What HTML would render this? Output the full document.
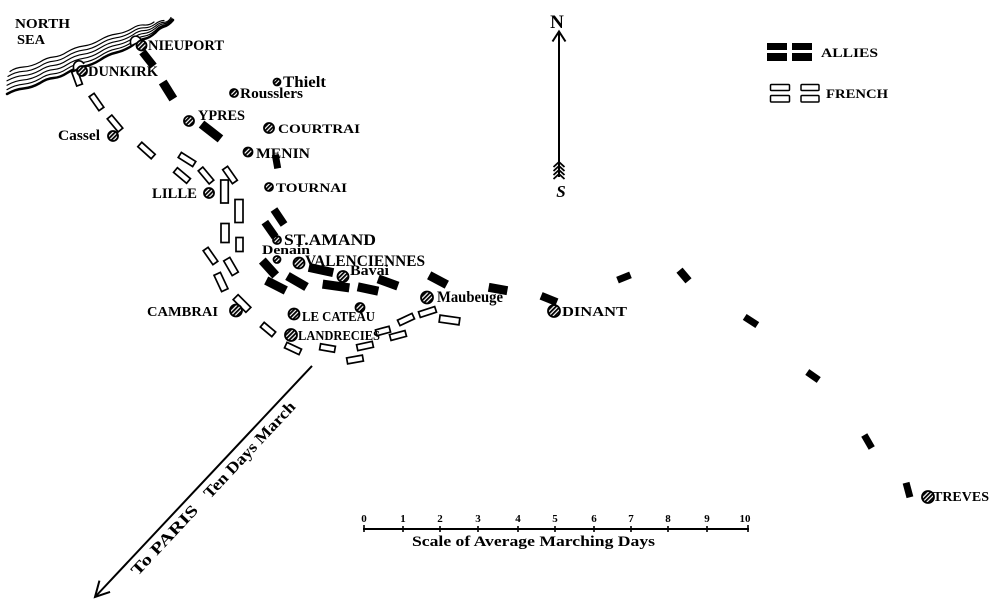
<!DOCTYPE html>
<html><head><meta charset="utf-8">
<style>
html,body{margin:0;padding:0;background:#fff;}
svg{display:block;}
text{font-family:"Liberation Serif",serif;font-weight:bold;fill:#000;}
.a{fill:#000;}
.f{fill:#fff;stroke:#000;stroke-width:1.7;}
.d{fill:url(#h);stroke:#000;stroke-width:1.8;}
.c{fill:none;stroke:#000;stroke-width:1.15;stroke-linecap:round;}
</style></head><body>
<svg width="1000" height="603" viewBox="0 0 1000 603" xmlns="http://www.w3.org/2000/svg">
<defs>
<pattern id="h" width="3" height="3" patternUnits="userSpaceOnUse" patternTransform="rotate(45)">
<rect width="3" height="3" fill="#fff"/><rect width="1.8" height="3" fill="#000"/>
</pattern>
</defs>
<rect width="1000" height="603" fill="#fff"/>

<!-- Coastline -->
<path class="c" style="stroke-width:2.5" d="M7,94 Q15.25,89.25 23.5,88.5 Q31.75,87.75 40,83 Q46.75,78.5 53.5,78 Q60.25,77.5 67,73 Q75.25,67.75 83.5,66.5 Q91.75,65.25 100,60 Q108.25,54.25 116.5,52.5 Q124.75,50.75 133,45 Q138.5,40 144,39 Q149.5,38 155,33 Q159.5,27.75 164,26.5 Q168.5,25.25 173,20"/>
<path class="c" d="M7,89.6 Q15.25,84.9 23.5,84.2 Q31.75,83.5 40,78.8 Q46.75,74.3 53.5,73.8 Q60.25,73.3 67,68.8 Q75.25,63.6 83.5,62.4 Q91.75,61.2 100,56 Q108.25,50.4 116.5,48.8 Q124.75,47.2 133,41.6 Q138.5,36.9 144,36.2 Q149.5,35.5 155,30.8 Q159.5,25.95 164,25.1 Q168.5,24.25 172,20"/>
<path class="c" d="M7,85.2 Q15.25,80.55 23.5,79.9 Q31.75,79.25 40,74.6 Q46.75,70.1 53.5,69.6 Q60.25,69.1 67,64.6 Q75.25,59.45 83.5,58.3 Q91.75,57.15 100,52 Q108.25,46.55 116.5,45.1 Q124.75,43.65 133,38.2 Q138.5,33.8 144,33.4 Q149.5,33 155,28.6 Q159.5,24.15 164,23.7 Q168.5,23.25 172,18.5"/>
<path class="c" d="M7,80.8 Q15.25,76.2 23.5,75.6 Q31.75,75 40,70.4 Q46.75,65.9 53.5,65.4 Q60.25,64.9 67,60.4 Q75.25,55.3 83.5,54.2 Q91.75,53.1 100,48 Q108.25,42.7 116.5,41.4 Q124.75,40.1 133,34.8 Q138.5,30.7 144,30.6 Q149.5,30.5 155,26.4 Q159.5,22.35 164,22.3 Q168.5,22.25 171,17.5"/>
<path class="c" d="M8,76.4 Q15.25,71.85 23.5,71.3 Q31.75,70.75 40,66.2 Q46.75,61.7 53.5,61.2 Q60.25,60.7 67,56.2 Q75.25,51.15 83.5,50.1 Q91.75,49.05 100,44 Q108.25,38.85 116.5,37.7 Q124.75,36.55 133,31.4 Q138.5,27.6 144,27.8 Q149.5,28 155,24.2 Q159.5,20.55 164,20.5"/>
<path class="c" d="M10,71.5 Q15.25,67.5 23.5,67 Q31.75,66.5 40,62 Q46.75,57.5 53.5,57 Q60.25,56.5 67,52 Q75.25,47 83.5,46 Q91.75,45 100,40 Q108.25,35 116.5,34 Q124.75,33 133,28 Q138.5,24.5 144,25 Q149.5,25.5 154,22"/>
<!-- harbours -->
<path d="M131,45 C128,36 138,33 141,40" fill="#fff" stroke="#000" stroke-width="1.6"/>
<path d="M74,70 C71,61 81,58 84,64" fill="#fff" stroke="#000" stroke-width="1.6"/>

<!-- Allied blocks -->
<g class="a">
<rect x="-9" y="-4" width="18" height="8" transform="translate(148,59) rotate(52)"/>
<rect x="-10" y="-4.5" width="20" height="9" transform="translate(168,90.5) rotate(58)"/>
<rect x="-12" y="-4.5" width="24" height="9" transform="translate(211,131.5) rotate(38)"/>
<rect x="-7" y="-3.5" width="14" height="7" transform="translate(276.5,161.5) rotate(80)"/>
<rect x="-9" y="-4" width="18" height="8" transform="translate(279,217) rotate(56)"/>
<rect x="-9" y="-4" width="18" height="8" transform="translate(270,229.5) rotate(55)"/>
<rect x="-10" y="-4.5" width="20" height="9" transform="translate(269,268) rotate(48)"/>
<rect x="-11" y="-4.5" width="22" height="9" transform="translate(276,285.5) rotate(27)"/>
<rect x="-11" y="-4.5" width="22" height="9" transform="translate(297,281.5) rotate(30)"/>
<rect x="-12.5" y="-4.5" width="25" height="9" transform="translate(321,270) rotate(12)"/>
<rect x="-13.5" y="-4.5" width="27" height="9" transform="translate(336,286) rotate(8)"/>
<rect x="-10.5" y="-4.5" width="21" height="9" transform="translate(368,289) rotate(12)"/>
<rect x="-10.5" y="-4.5" width="21" height="9" transform="translate(388,282.5) rotate(20)"/>
<rect x="-10" y="-4.5" width="20" height="9" transform="translate(438,280) rotate(28)"/>
<rect x="-9.5" y="-4.5" width="19" height="9" transform="translate(498,289) rotate(10)"/>
<rect x="-8.5" y="-4" width="17" height="8" transform="translate(549,299) rotate(22)"/>
<rect x="-7" y="-3.5" width="14" height="7" transform="translate(624,277.5) rotate(-22)"/>
<rect x="-7" y="-4" width="14" height="8" transform="translate(684,275.5) rotate(50)"/>
<rect x="-7.5" y="-3.5" width="15" height="7" transform="translate(751,321) rotate(33)"/>
<rect x="-7" y="-3.5" width="14" height="7" transform="translate(813,376) rotate(35)"/>
<rect x="-7.5" y="-3.5" width="15" height="7" transform="translate(868,441.5) rotate(60)"/>
<rect x="-7.5" y="-3.5" width="15" height="7" transform="translate(908,490) rotate(75)"/>
</g>

<!-- French blocks -->
<g class="f">
<rect x="-7.5" y="-3" width="15" height="6" transform="translate(77,78) rotate(70)"/>
<rect x="-8.5" y="-3" width="17" height="6" transform="translate(96.5,102) rotate(55)"/>
<rect x="-8.5" y="-3" width="17" height="6" transform="translate(115,123.5) rotate(50)"/>
<rect x="-9" y="-3" width="18" height="6" transform="translate(146.5,150.5) rotate(42)"/>
<rect x="-8.5" y="-3" width="17" height="6" transform="translate(187,159.5) rotate(32)"/>
<rect x="-8.5" y="-3" width="17" height="6" transform="translate(182,175.5) rotate(40)"/>
<rect x="-8.5" y="-3" width="17" height="6" transform="translate(206,175.5) rotate(50)"/>
<rect x="-8.5" y="-3" width="17" height="6" transform="translate(230,175) rotate(55)"/>
<rect x="-11.5" y="-3.75" width="23" height="7.5" transform="translate(224.5,191.5) rotate(90)"/>
<rect x="-11.5" y="-4" width="23" height="8" transform="translate(239,211) rotate(90)"/>
<rect x="-9.5" y="-4" width="19" height="8" transform="translate(225,233) rotate(90)"/>
<rect x="-7" y="-3.5" width="14" height="7" transform="translate(239.5,244.5) rotate(90)"/>
<rect x="-8.5" y="-3" width="17" height="6" transform="translate(210.5,256) rotate(55)"/>
<rect x="-8.5" y="-3.5" width="17" height="7" transform="translate(231,266.5) rotate(60)"/>
<rect x="-9" y="-3.5" width="18" height="7" transform="translate(221,282) rotate(65)"/>
<rect x="-9" y="-3.5" width="18" height="7" transform="translate(242,303.5) rotate(45)"/>
<rect x="-7.5" y="-3" width="15" height="6" transform="translate(268,329.5) rotate(40)"/>
<rect x="-8" y="-3" width="16" height="6" transform="translate(293,348.5) rotate(25)"/>
<rect x="-7.5" y="-3" width="15" height="6" transform="translate(327.5,348) rotate(10)"/>
<rect x="-8" y="-3" width="16" height="6" transform="translate(355,359.5) rotate(-10)"/>
<rect x="-8" y="-3" width="16" height="6" transform="translate(365,346) rotate(-12)"/>
<rect x="-7" y="-3" width="14" height="6" transform="translate(383,331) rotate(-15)"/>
<rect x="-8" y="-3" width="16" height="6" transform="translate(398,335.5) rotate(-15)"/>
<rect x="-8" y="-3" width="16" height="6" transform="translate(406,319.5) rotate(-25)"/>
<rect x="-8.5" y="-3" width="17" height="6" transform="translate(427.5,312) rotate(-18)"/>
<rect x="-10" y="-3.5" width="20" height="7" transform="translate(449.5,320) rotate(8)"/>
</g>

<!-- City dots -->
<g class="d">
<circle cx="141.5" cy="45.5" r="5"/>
<circle cx="82" cy="71" r="5"/>
<circle cx="277" cy="82" r="3.5"/>
<circle cx="234" cy="93" r="4"/>
<circle cx="189" cy="121" r="5"/>
<circle cx="113" cy="136" r="5"/>
<circle cx="269" cy="128" r="5"/>
<circle cx="248" cy="152" r="4.5"/>
<circle cx="269" cy="187" r="4"/>
<circle cx="209" cy="193" r="5"/>
<circle cx="277" cy="240" r="4"/>
<circle cx="277" cy="259.5" r="3.5"/>
<circle cx="299" cy="263" r="5.5"/>
<circle cx="343" cy="276.5" r="5.5"/>
<circle cx="427" cy="297.5" r="6"/>
<circle cx="554" cy="311" r="6"/>
<circle cx="236" cy="310.5" r="6"/>
<circle cx="294" cy="314" r="5.5"/>
<circle cx="360" cy="307.5" r="4.5"/>
<circle cx="291" cy="335" r="6"/>
<circle cx="928" cy="497" r="6"/>
</g>

<!-- Labels -->
<text x="15" y="28" font-size="14" textLength="55" lengthAdjust="spacingAndGlyphs">NORTH</text>
<text x="17" y="44" font-size="14" textLength="28" lengthAdjust="spacingAndGlyphs">SEA</text>
<text x="148" y="50" font-size="15" textLength="76" lengthAdjust="spacingAndGlyphs">NIEUPORT</text>
<text x="88" y="76" font-size="15" textLength="70" lengthAdjust="spacingAndGlyphs">DUNKIRK</text>
<text x="283" y="87" font-size="16" textLength="43" lengthAdjust="spacingAndGlyphs">Thielt</text>
<text x="240" y="98" font-size="15" textLength="63" lengthAdjust="spacingAndGlyphs">Rousslers</text>
<text x="198" y="120" font-size="15" textLength="47" lengthAdjust="spacingAndGlyphs">YPRES</text>
<text x="58" y="140" font-size="15" textLength="42" lengthAdjust="spacingAndGlyphs">Cassel</text>
<text x="278" y="133" font-size="13" textLength="82" lengthAdjust="spacingAndGlyphs">COURTRAI</text>
<text x="256" y="158" font-size="15" textLength="54" lengthAdjust="spacingAndGlyphs">MENIN</text>
<text x="276" y="192" font-size="13" textLength="71" lengthAdjust="spacingAndGlyphs">TOURNAI</text>
<text x="152" y="198" font-size="15" textLength="45" lengthAdjust="spacingAndGlyphs">LILLE</text>
<text x="284" y="245" font-size="16" textLength="92" lengthAdjust="spacingAndGlyphs">ST.AMAND</text>
<text x="262" y="254" font-size="13" textLength="48" lengthAdjust="spacingAndGlyphs">Denain</text>
<text x="305" y="266" font-size="16" textLength="120" lengthAdjust="spacingAndGlyphs">VALENCIENNES</text>
<text x="350" y="275" font-size="15" textLength="39" lengthAdjust="spacingAndGlyphs">Bavai</text>
<text x="437" y="302" font-size="16" textLength="66" lengthAdjust="spacingAndGlyphs">Maubeuge</text>
<text x="562" y="316" font-size="14" textLength="65" lengthAdjust="spacingAndGlyphs">DINANT</text>
<text x="147" y="316" font-size="14" textLength="71" lengthAdjust="spacingAndGlyphs">CAMBRAI</text>
<text x="302" y="321" font-size="14" textLength="73" lengthAdjust="spacingAndGlyphs">LE CATEAU</text>
<text x="298" y="340" font-size="14" textLength="82" lengthAdjust="spacingAndGlyphs">LANDRECIES</text>
<text x="933" y="501" font-size="14" textLength="56" lengthAdjust="spacingAndGlyphs">TREVES</text>

<!-- Compass -->
<text x="557" y="28" font-size="19" text-anchor="middle" font-weight="normal">N</text>
<line x1="559" y1="32" x2="559" y2="177" stroke="#000" stroke-width="2"/>
<polyline points="552.5,41.5 559,31.5 565.5,41.5" fill="none" stroke="#000" stroke-width="2"/>
<g fill="none" stroke="#000" stroke-width="1.8">
<polyline points="553.5,167 559,162 564.5,167"/>
<polyline points="553.5,171 559,166 564.5,171"/>
<polyline points="553.5,175 559,170 564.5,175"/>
<polyline points="553.5,179 559,174 564.5,179"/>
</g>
<text x="561" y="197" font-size="17" text-anchor="middle" font-style="italic" font-weight="normal">S</text>

<!-- Legend -->
<rect x="767" y="43" width="20" height="7" fill="#000"/>
<rect x="767" y="53" width="20" height="8" fill="#000"/>
<rect x="792" y="43" width="20" height="7" fill="#000"/>
<rect x="792" y="53" width="20" height="8" fill="#000"/>
<text x="821" y="57" font-size="13" textLength="57" lengthAdjust="spacingAndGlyphs">ALLIES</text>
<g fill="#fff" stroke="#000" stroke-width="1.5">
<rect x="770.5" y="84.5" width="19" height="6" rx="1"/>
<rect x="770.5" y="95.5" width="19" height="6.5" rx="1"/>
<rect x="801" y="84.5" width="18" height="6" rx="1"/>
<rect x="801" y="95.5" width="18" height="6.5" rx="1"/>
</g>
<text x="826" y="98" font-size="13" textLength="62" lengthAdjust="spacingAndGlyphs">FRENCH</text>

<!-- Paris arrow -->
<g transform="translate(95,597) rotate(-46.8)">
<line x1="0" y1="0" x2="317" y2="0" stroke="#000" stroke-width="2"/>
<polyline points="15,-8 0,0 14,7.5" fill="none" stroke="#000" stroke-width="2"/>
<text x="44" y="17" font-size="16" font-weight="normal" textLength="90" lengthAdjust="spacingAndGlyphs">To PARIS</text>
<text x="150" y="17" font-size="16" font-weight="normal" textLength="126" lengthAdjust="spacingAndGlyphs">Ten Days March</text>
</g>

<!-- Scale -->
<line x1="363" y1="529" x2="749" y2="529" stroke="#000" stroke-width="2"/>
<g stroke="#000" stroke-width="1.6">
<line x1="364" y1="525" x2="364" y2="532"/>
<line x1="403" y1="526" x2="403" y2="532"/>
<line x1="440" y1="526" x2="440" y2="532"/>
<line x1="478" y1="526" x2="478" y2="532"/>
<line x1="518" y1="526" x2="518" y2="532"/>
<line x1="555" y1="526" x2="555" y2="532"/>
<line x1="594" y1="526" x2="594" y2="532"/>
<line x1="631" y1="526" x2="631" y2="532"/>
<line x1="668" y1="526" x2="668" y2="532"/>
<line x1="707" y1="526" x2="707" y2="532"/>
<line x1="748" y1="525" x2="748" y2="532"/>
</g>
<g font-size="11" text-anchor="middle">
<text x="364" y="522">0</text>
<text x="403" y="522">1</text>
<text x="440" y="522">2</text>
<text x="478" y="522">3</text>
<text x="518" y="522">4</text>
<text x="555" y="522">5</text>
<text x="594" y="522">6</text>
<text x="631" y="522">7</text>
<text x="668" y="522">8</text>
<text x="707" y="522">9</text>
<text x="745" y="522">10</text>
</g>
<text x="412" y="546" font-size="15" textLength="243" lengthAdjust="spacingAndGlyphs">Scale of Average Marching Days</text>
</svg>
</body></html>
